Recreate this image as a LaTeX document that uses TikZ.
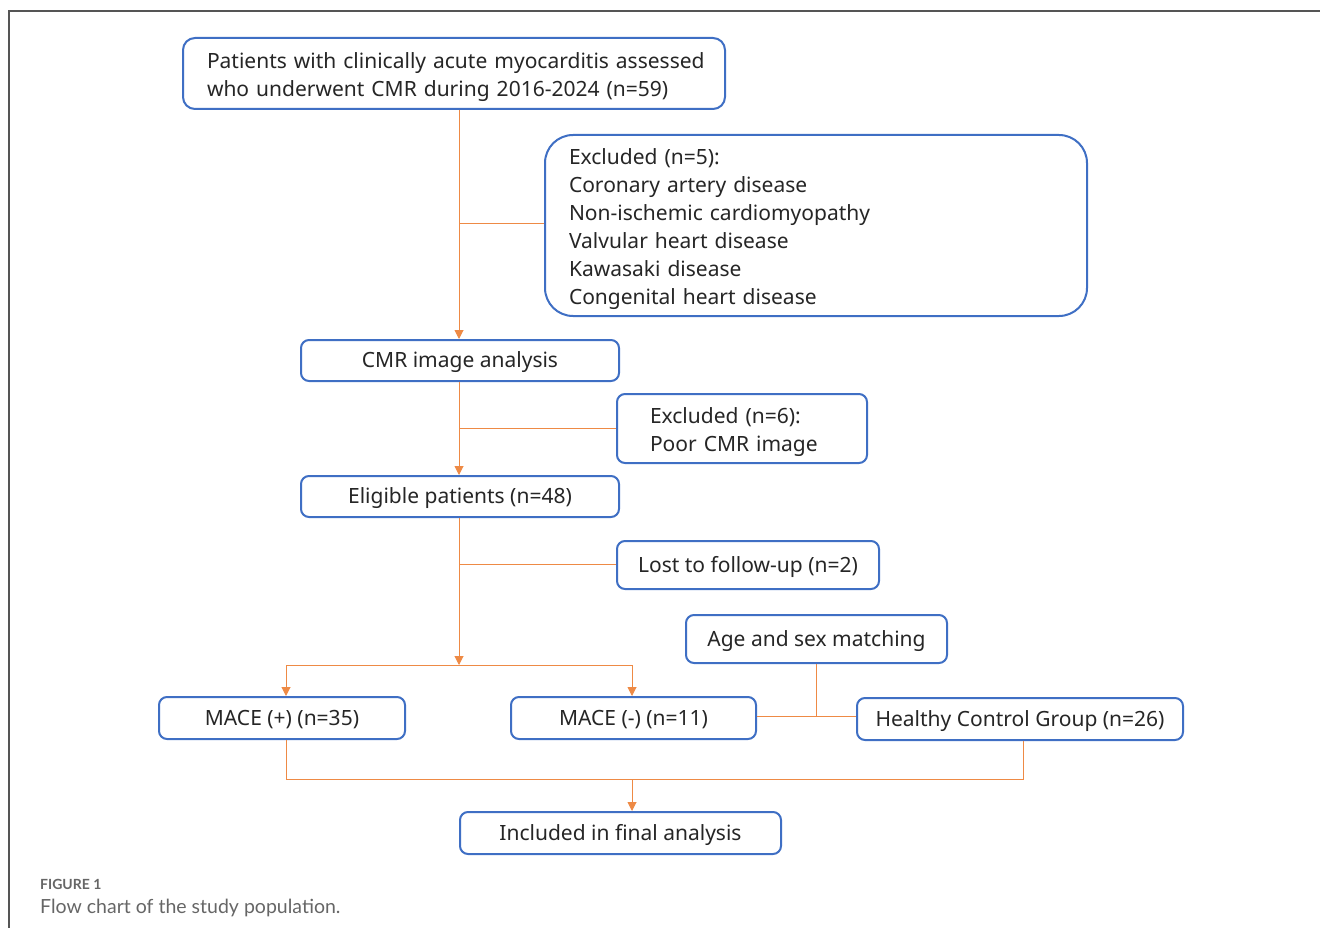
\documentclass[tikz,border=0pt]{standalone}
\usepackage{fontspec}
\setmainfont{Noto Sans}
\newfontfamily\capfont{Lato}
\usetikzlibrary{arrows.meta}
\definecolor{boxblue}{HTML}{3F6FC4}
\definecolor{conn}{HTML}{EE8A45}
\definecolor{frame}{HTML}{555555}
\definecolor{capgrey}{HTML}{666666}
\newcommand{\firststrut}{\rule{0pt}{24pt}}
\newcommand{\boxfont}{\fontsize{21}{28}\selectfont\hfuzz=30pt\relax}
\tikzset{
  flowbox/.style={draw=boxblue, line width=2pt, rounded corners=8pt, fill=white,
    font=\boxfont, text=black!85, inner sep=0pt, anchor=north west},
  leftbox/.style={flowbox, align=left, inner xsep=24pt},
  ctrbox/.style={flowbox, align=center, text height=16pt, text depth=2pt},
  conline/.style={draw=conn, line width=1pt},
  conarrow/.style={conline, -{Triangle[length=9pt,width=9pt]}},
}
\begin{document}
\begin{tikzpicture}[x=1pt,y=-1pt]
\useasboundingbox (0,0) rectangle (1320,928);
\draw[frame, line width=1.5pt] (9,928) -- (9,11) -- (1320,11);

\node[leftbox, rounded corners=12pt, minimum width=542pt, minimum height=71pt, text width=494pt] (top) at (182,37)
  {\firststrut\mbox{Patients with clinically acute myocarditis assessed}\\\mbox{who underwent CMR during 2016-2024 (n=59)}};
\node[leftbox, rounded corners=28pt, minimum width=542pt, minimum height=181pt, text width=494pt] (ex5) at (544,134)
  {\firststrut Excluded (n=5):\\Coronary artery disease\\Non-ischemic cardiomyopathy\\Valvular heart disease\\Kawasaki disease\\Congenital heart disease};
\node[ctrbox, minimum width=318pt, minimum height=41pt] (cmr) at (300,339) {CMR image analysis};
\node[leftbox, inner xsep=33pt, minimum width=250pt, minimum height=69pt, text width=184pt] (ex6) at (616,393)
  {\firststrut Excluded (n=6):\\Poor CMR image};
\node[ctrbox, minimum width=318pt, minimum height=41pt] (elig) at (300,475) {Eligible patients (n=48)};
\node[ctrbox, minimum width=262pt, minimum height=48pt] (lost) at (616,540) {Lost to follow-up (n=2)};
\node[ctrbox, minimum width=261pt, minimum height=48pt] (age) at (685,614) {Age and sex matching};
\node[ctrbox, minimum width=246pt, minimum height=42pt] (macep) at (158,696) {MACE (+) (n=35)};
\node[ctrbox, minimum width=245pt, minimum height=42pt] (macem) at (510,696) {MACE (-) (n=11)};
\node[ctrbox, minimum width=326pt, minimum height=42pt] (hc) at (856,697) {Healthy Control Group (n=26)};
\node[ctrbox, minimum width=321pt, minimum height=42pt] (incl) at (459,811) {Included in final analysis};

\coordinate (b1) at (459,224);
\coordinate (b2) at (459,428);
\coordinate (b3) at (459,564);
\coordinate (split) at (459,665);
\coordinate (sl) at (286,665);
\coordinate (sr) at (632,665);
\coordinate (agej) at (816,716);
\coordinate (jl) at (286,779);
\coordinate (jr) at (1023,779);
\coordinate (jm) at (632,779);

\draw[conarrow] (top.south -| b1) -- (cmr.north -| b1);
\draw[conline] (b1) -- (b1 -| ex5.west);
\draw[conarrow] (cmr.south -| b2) -- (elig.north -| b2);
\draw[conline] (b2) -- (b2 -| ex6.west);
\draw[conarrow] (elig.south -| b3) -- (split);
\draw[conline] (b3) -- (b3 -| lost.west);
\draw[conline] (sl) -- (sr);
\draw[conarrow] (sl) -- (macep.north -| sl);
\draw[conarrow] (sr) -- (macem.north -| sr);
\draw[conline] (age.south -| agej) -- (agej);
\draw[conline] (macem.east |- agej) -- (hc.west |- agej);
\draw[conline] (macep.south -| jl) -- (jl) -- (jr) -- (hc.south -| jr);
\draw[conarrow] (jm) -- (incl.north -| jm);

\node[anchor=base west, font=\capfont\fontsize{14}{16}\selectfont\bfseries, text=capgrey, inner sep=0pt] (figlab) at (40,889) {FIGURE 1};
\node[anchor=base west, font=\capfont\fontsize{19.5}{22}\selectfont, text=capgrey, inner sep=0pt] (cap) at (40,913) {Flow chart of the study population.};
\end{tikzpicture}
\end{document}
